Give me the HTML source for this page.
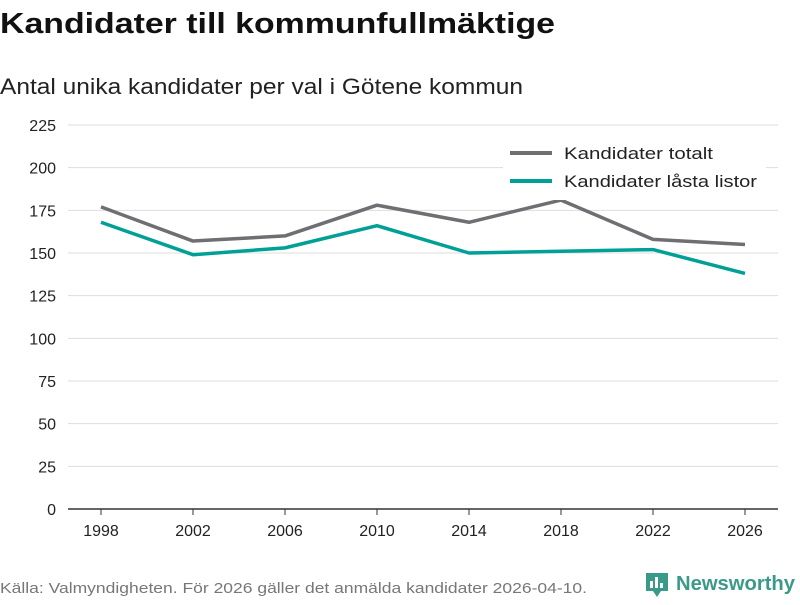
<!DOCTYPE html>
<html><head><meta charset="utf-8"><style>
body{margin:0;width:800px;height:600px;background:#fff;font-family:"Liberation Sans","DejaVu Sans",sans-serif;overflow:hidden;position:relative}
</style></head><body>
<svg width="800" height="600" xmlns="http://www.w3.org/2000/svg">
<text x="0" y="33" font-size="29" font-weight="bold" fill="#111" textLength="555" lengthAdjust="spacingAndGlyphs">Kandidater till kommunfullmäktige</text>
<text x="0" y="94" font-size="22" fill="#222" textLength="523" lengthAdjust="spacingAndGlyphs">Antal unika kandidater per val i Götene kommun</text>
<g id="grid"></g><g id="lines"></g>
<g>
<rect x="503" y="138" width="263" height="62" fill="#fff"/>
<line x1="510" y1="153" x2="552" y2="153" stroke="#6e6e73" stroke-width="4"/>
<text x="564" y="159" font-size="17" fill="#222" textLength="149" lengthAdjust="spacingAndGlyphs">Kandidater totalt</text>
<line x1="510" y1="181" x2="552" y2="181" stroke="#00a096" stroke-width="4"/>
<text x="564" y="187" font-size="17" fill="#222" textLength="193" lengthAdjust="spacingAndGlyphs">Kandidater låsta listor</text>
</g>
<text x="0" y="593" font-size="15" fill="#777" textLength="587" lengthAdjust="spacingAndGlyphs">Källa: Valmyndigheten. För 2026 gäller det anmälda kandidater 2026-04-10.</text>
<g>
<path d="M646 573 h22 v18 h-7 l-4 6 l-4 -6 h-7 z" fill="#3a9a8a"/>
<rect x="650" y="581" width="3" height="7" fill="#fff"/><rect x="655" y="577" width="3" height="11" fill="#fff"/><rect x="660" y="583" width="3" height="5" fill="#fff"/>
<text x="676" y="590" font-size="20" font-weight="bold" fill="#3a9a8a" textLength="119" lengthAdjust="spacingAndGlyphs">Newsworthy</text>
</g>
</svg>
<script>
const years=[1998,2002,2006,2010,2014,2018,2022,2026];
const totalt=[177,157,160,178,168,181,158,155];
const lasta=[168,149,153,166,150,151,152,138];
const yTicks=[0,25,50,75,100,125,150,175,200,225];
const NS="http://www.w3.org/2000/svg";
const x=v=>101+(v-1998)*(644/28);
const y=v=>509-v*(384/225);
const grid=document.getElementById('grid'),lines=document.getElementById('lines');
function mk(t,a,p){const e=document.createElementNS(NS,t);for(const k in a)e.setAttribute(k,a[k]);p.appendChild(e);return e;}
yTicks.forEach(t=>{
 const l=mk('line',{x1:68,x2:778,y1:y(t),y2:y(t),stroke:t===0?'#333':'#ddd','stroke-width':t===0?1.5:1},grid);
 
 
 const tx=mk('text',{x:56,y:y(t)+6,'font-size':16,fill:'#222','text-anchor':'end'},grid);tx.textContent=t;
 
 
});
years.forEach(yr=>{
 const tk=mk('line',{x1:x(yr),x2:x(yr),y1:509,y2:515,stroke:'#333'},grid);
 
 
 const tx=mk('text',{x:x(yr),y:536,'font-size':16,fill:'#222','text-anchor':'middle'},grid);tx.textContent=yr;
 
 
});
function line(vals,col,name){
 const p=mk('polyline',{points:vals.map((v,i)=>x(years[i])+','+y(v)).join(' '),fill:'none',stroke:col,'stroke-width':3.5,'stroke-linejoin':'round'},lines);
 
 
}
line(totalt,'#6e6e73','line-kandidater-totalt');
line(lasta,'#00a096','line-kandidater-lasta-listor');
</script>
</body></html>
